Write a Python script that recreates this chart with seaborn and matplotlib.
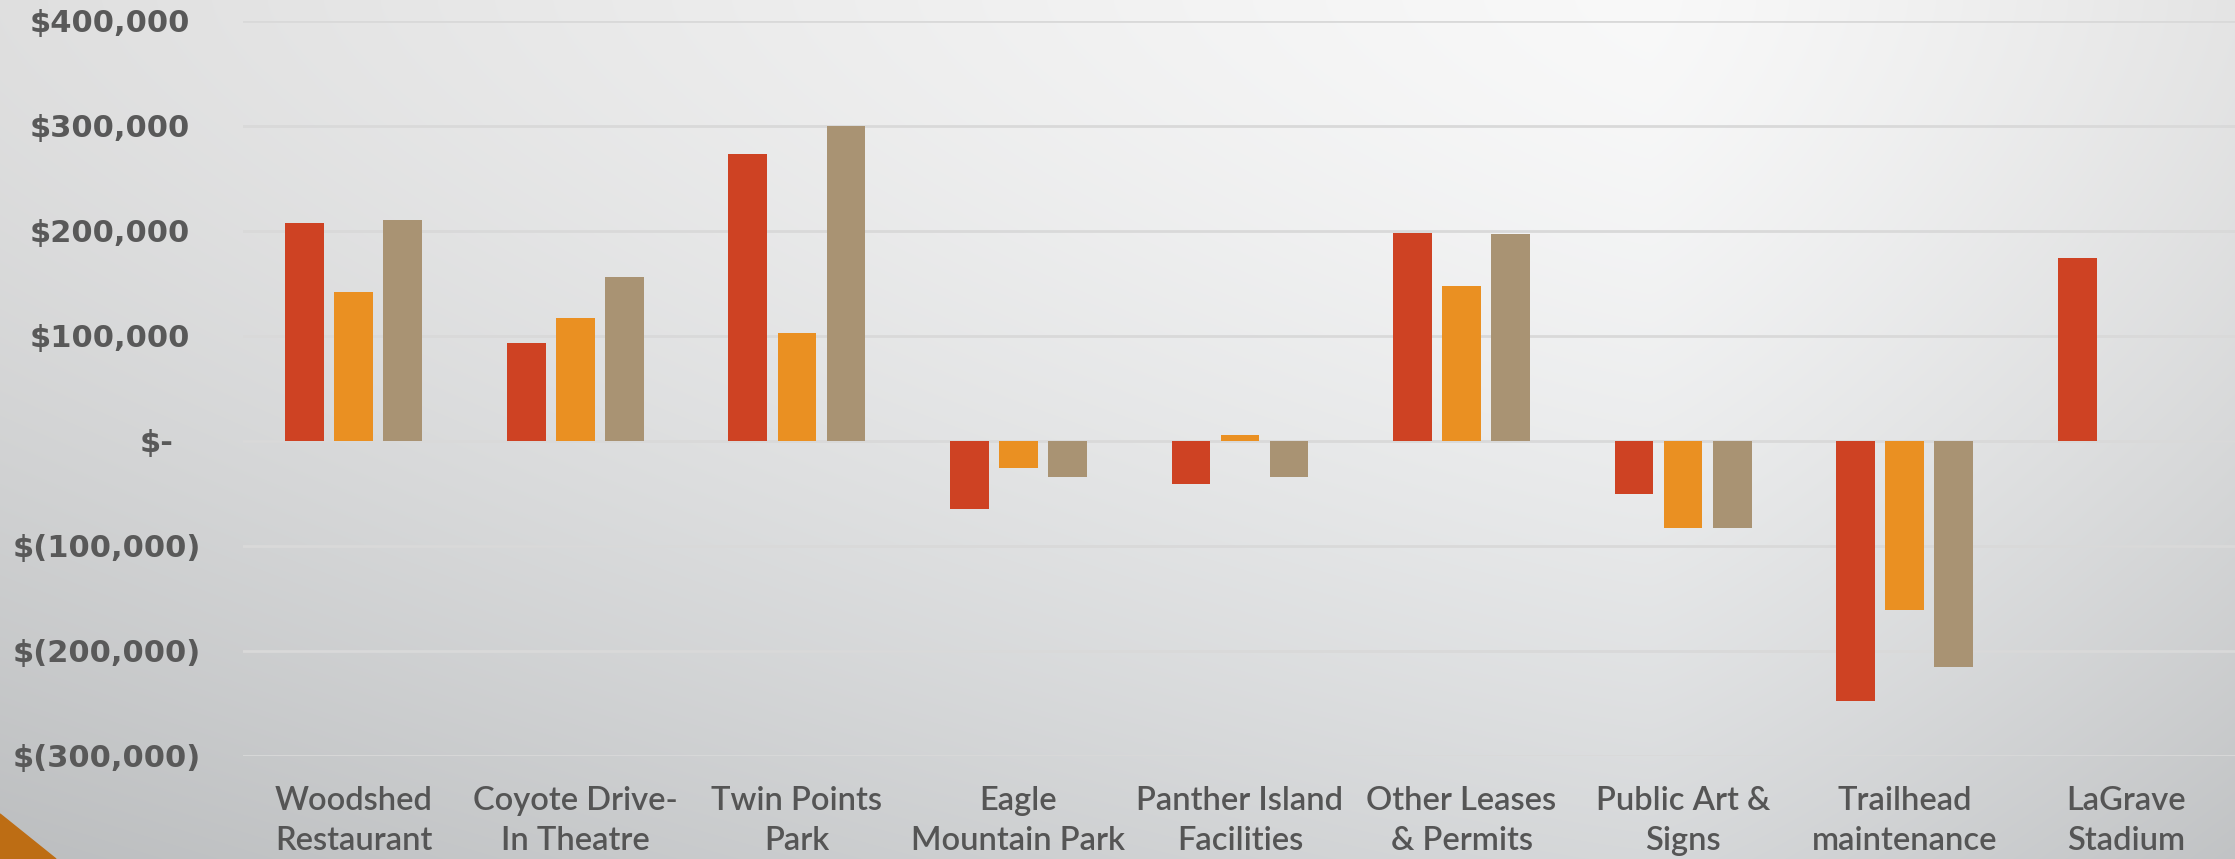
import numpy as np
import pandas as pd
import matplotlib
matplotlib.use("Agg")
import matplotlib.pyplot as plt
import matplotlib.transforms as mtransforms
from matplotlib.patches import Polygon
import seaborn as sns

# data
categories = ["Woodshed\nRestaurant", "Coyote Drive-\nIn Theatre", "Twin Points\nPark",
              "Eagle\nMountain Park", "Panther Island\nFacilities", "Other Leases\n& Permits",
              "Public Art &\nSigns", "Trailhead\nmaintenance", "LaGrave\nStadium"]
series_names = ["Series 1", "Series 2", "Series 3"]
series_1 = [207000, 93000, 273000, -65000, -41000, 198000, -50500, -247500, 174000]
series_2 = [141500, 116500, 102500, -26000, 5500, 147000, -83500, -161500, np.nan]
series_3 = [210000, 155500, 300000, -35000, -35000, 196500, -83500, -215500, np.nan]
colors = ["#CE4223", "#EA9022", "#A99373"]
y_ticks = [400000, 300000, 200000, 100000, 0, -100000, -200000, -300000]
y_tick_labels = ["$400,000", "$300,000", "$200,000", "$100,000", "$-",
                 "$(100,000)", "$(200,000)", "$(300,000)"]

df = pd.DataFrame({"category": categories, series_names[0]: series_1,
                   series_names[1]: series_2, series_names[2]: series_3})
df = df.melt(id_vars="category", var_name="series", value_name="value").dropna()

W, H = 2235, 859
fig = plt.figure(figsize=(W / 100, H / 100), dpi=100)

# background gradient
bg = fig.add_axes([0, 0, 1, 1], zorder=-2)
xx, yy = np.meshgrid(np.arange(W), np.arange(H))
cx = 1650
hx = np.where(xx < cx, (cx - xx) / cx, (xx - cx) / (W - cx))
hx_w = np.where(xx < cx, 0.1, 0.08)
lum = 0.975 - hx_w * hx ** 1.2 - 0.13 * (yy / H) ** 1.5
img = np.dstack([lum - 0.008 * (yy / H), lum, lum + 0.006 * (yy / H)])
bg.imshow(np.clip(img, 0, 1), extent=[0, W, H, 0], aspect="auto")
bg.add_patch(Polygon([[0, 814], [56, H], [0, H]], closed=True, color="#BD6D14"))
bg.set_xlim(0, W)
bg.set_ylim(H, 0)
bg.axis("off")

ax = fig.add_axes([243 / W, 1 - 755.7 / H, (2237 - 243) / W, (755.7 - 20.7) / H])
ax.patch.set_alpha(0)

sns.barplot(data=df, x="category", y="value", hue="series", order=categories,
            hue_order=series_names, palette=dict(zip(series_names, colors)),
            width=0.664, gap=0.21, errorbar=None, legend=False, saturation=1,
            ax=ax, zorder=3)

ax.set_xlim(-0.5, 8.5)
ax.set_ylim(-300000, 400000)
ax.set_yticks(y_ticks)
ax.set_yticklabels(y_tick_labels)
ax.set_xlabel("")
ax.set_ylabel("")
for s in ax.spines.values():
    s.set_visible(False)
ax.grid(axis="y", color="#D9D9D9", linewidth=2, zorder=0)
ax.set_axisbelow(True)
ax.tick_params(axis="both", length=0)
ax.tick_params(axis="y", pad=30, labelcolor="#595959")
ax.tick_params(axis="x", pad=22, labelcolor="#555555")

for lab in ax.get_yticklabels():
    lab.set_fontfamily("DejaVu Sans")
    lab.set_fontweight("bold")
    lab.set_fontsize(22)
    txt = lab.get_text()
    if txt == "$-":
        dx = 28
    elif txt.endswith(")"):
        dx = 0
    else:
        dx = 11
    lab.set_transform(lab.get_transform() + mtransforms.ScaledTranslation(-dx / 100, 0, fig.dpi_scale_trans))

for lab in ax.get_xticklabels():
    lab.set_fontfamily("Lato")
    lab.set_fontweight("semibold")
    lab.set_fontsize(23.5)
    lab.set_linespacing(1.42)
    lab.set_multialignment("center")

fig.savefig("out.png", dpi=100)
